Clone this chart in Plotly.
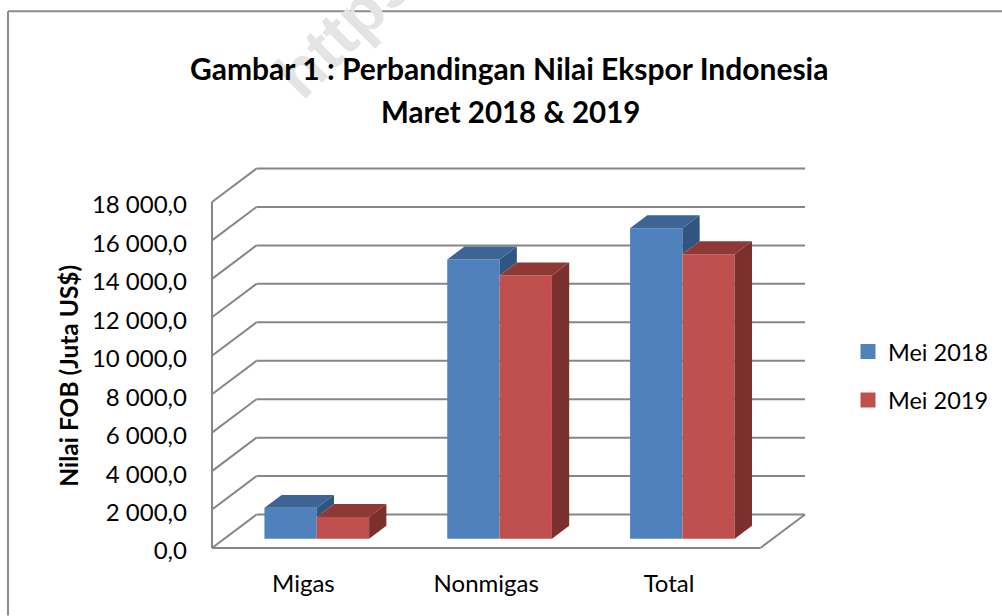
import plotly.graph_objects as go

categories = ["Migas", "Nonmigas", "Total"]
mei_2018 = [1600, 14520, 16150]
mei_2019 = [1130, 13690, 14790]
y_ticks = [0, 2000, 4000, 6000, 8000, 10000, 12000, 14000, 16000, 18000]
y_tick_labels = ["0,0", "2 000,0", "4 000,0", "6 000,0", "8 000,0", "10 000,0",
                 "12 000,0", "14 000,0", "16 000,0", "18 000,0"]

BLUE, BLUE_TOP, BLUE_SIDE = "#4F81BD", "#3C6494", "#2F5580"
RED, RED_TOP, RED_SIDE = "#C0504D", "#8F3937", "#7B302E"
GRID = "#868686"
FONT = "Lato"

W, H = 1002, 616
PAD = 2  # room so that the outermost grid lines are not clipped by the plot area
L, R, T, B = 212, 805, 169, 548.5
MARGIN_R = 2
PLOT_L = L - PAD
PLOT_W = W - MARGIN_R - PLOT_L
PLOT_H = B + PAD - (T - PAD)
PX_Y = 18000 / 346.5
CAT_PX = 548 / 3
DEPTH_X = 44.5 / CAT_PX
DEPTH_Y = 33.5 * PX_Y
F0, F1 = 0.28, 0.667
BAR_W = 52.3 / CAT_PX
BAR_SHIFT = 0.30 * DEPTH_X


def px(x):
    return (x - PLOT_L) / PLOT_W


def py(y):
    return (B + PAD - y) / PLOT_H


fig = go.Figure()
base = F0 * DEPTH_Y
xs = [i + BAR_SHIFT for i in range(len(categories))]

fig.add_trace(go.Bar(x=xs, y=mei_2018, base=[base] * 3, width=BAR_W, offset=-BAR_W,
                     marker=dict(color=BLUE, line=dict(width=0)), showlegend=False, name="Mei 2018"))
fig.add_trace(go.Bar(x=xs, y=mei_2019, base=[base] * 3, width=BAR_W, offset=0,
                     marker=dict(color=RED, line=dict(width=0)), showlegend=False, name="Mei 2019"))

d = (F1 - F0) * DEPTH_X
h = (F1 - F0) * DEPTH_Y


def poly(xv, yv, color):
    fig.add_trace(go.Scatter(x=xv, y=yv, mode="lines", fill="toself", fillcolor=color,
                             line=dict(width=0), showlegend=False, hoverinfo="skip"))


for i in range(len(categories)):
    xc = xs[i]
    # 2018 block: its side is hidden by the 2019 block below that block's top
    t = base + mei_2018[i]
    low = base + mei_2019[i]
    x0, x1 = xc - BAR_W, xc
    poly([x1, x1 + d, x1 + d, x1, x1], [t, t + h, low + h, low, t], BLUE_SIDE)
    poly([x0, x1, x1 + d, x0 + d, x0], [t, t, t + h, t + h, t], BLUE_TOP)
    # 2019 block
    t = base + mei_2019[i]
    x0, x1 = xc, xc + BAR_W
    poly([x1, x1 + d, x1 + d, x1, x1], [t, t + h, base + h, base, t], RED_SIDE)
    poly([x0, x1, x1 + d, x0 + d, x0], [t, t, t + h, t + h, t], RED_TOP)

# legend swatches
for name, color in (("Mei 2018", BLUE), ("Mei 2019", RED)):
    fig.add_trace(go.Scatter(x=[None], y=[None], mode="markers", name=name, legendgroup=name,
                             marker=dict(symbol="square", size=15, color=color)))

x_left, x_front_right = -0.5, 2.5
x_right = x_front_right + DEPTH_X
shapes = []


def seg(x0, y0, x1, y1):
    shapes.append(dict(type="line", xref="x", yref="y", x0=x0, y0=y0, x1=x1, y1=y1, layer="below",
                       line=dict(color=GRID, width=2)))


for v in y_ticks:
    seg(x_left, v, x_left + DEPTH_X, v + DEPTH_Y)
    seg(x_left + DEPTH_X, v + DEPTH_Y, x_right, v + DEPTH_Y)
seg(x_left, 0, x_left, y_ticks[-1])
seg(x_left, 0, x_front_right, 0)
seg(x_front_right, 0, x_right, DEPTH_Y)

# outer chart frame
for (a, b, c, e) in ((8, 11, 1002, 11), (8, 11, 8, 616)):
    shapes.append(dict(type="line", xref="paper", yref="paper", x0=px(a), y0=py(b), x1=px(c), y1=py(e),
                       layer="below", line=dict(color="#8C8C8C", width=2)))

annotations = [
    dict(text="<b>https</b>", xref="paper", yref="paper", x=px(343), y=py(29), showarrow=False, textangle=-45,
         font=dict(family="Liberation Sans", size=66, color="#E4E4E4"), xanchor="center", yanchor="middle"),
    dict(text="Gambar 1 : Perbandingan Nilai Ekspor Indonesia", xref="paper", yref="paper", x=px(509), y=py(68),
         showarrow=False, font=dict(family=FONT, size=30, color="black", weight="bold"),
         xanchor="center", yanchor="middle"),
    dict(text="Maret 2018 & 2019", xref="paper", yref="paper", x=px(510), y=py(111),
         showarrow=False, font=dict(family=FONT, size=29.5, color="black", weight="bold"),
         xanchor="center", yanchor="middle"),
    dict(text="Nilai FOB (Juta US$)", xref="paper", yref="paper", x=px(69), y=py(376), showarrow=False,
         textangle=-90, font=dict(family=FONT, size=24.5, color="black", weight="bold"),
         xanchor="center", yanchor="middle"),
]

fig.update_layout(
    width=W, height=H, margin=dict(l=PLOT_L, r=MARGIN_R, t=T - PAD, b=H - B - PAD, pad=0),
    paper_bgcolor="white", plot_bgcolor="rgba(0,0,0,0)",
    barmode="overlay", shapes=shapes, annotations=annotations, hovermode=False,
    font=dict(family=FONT, color="black"),
    legend=dict(x=px(848), y=py(330), xanchor="left", yanchor="top", font=dict(size=23.5),
                tracegroupgap=15, bgcolor="rgba(0,0,0,0)", itemwidth=30),
    xaxis=dict(domain=[0, (R + PAD - PLOT_L) / PLOT_W],
               range=[x_left - PAD / CAT_PX, x_right + PAD / CAT_PX], tickvals=list(range(3)), ticktext=categories,
               showgrid=False, zeroline=False, showline=False, ticks="", tickfont=dict(size=24),
               ticklabelstandoff=17),
    yaxis=dict(range=[-PAD * PX_Y, (B - T + PAD) * PX_Y], tickvals=y_ticks, ticktext=y_tick_labels, showgrid=False,
               zeroline=False, showline=False, ticks="", tickfont=dict(size=24), ticklabelstandoff=22,
               ticklabelshift=3),
)

fig.write_html("out.html", config={"displayModeBar": False},
               post_script="document.body.style.margin='0';")
